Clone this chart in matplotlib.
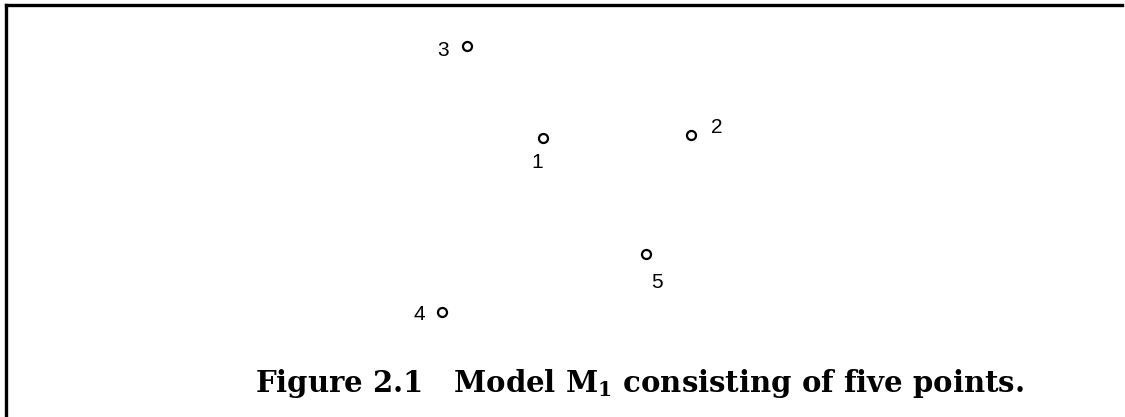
import matplotlib.pyplot as plt

# point positions (picture pixels) and labels
ids = ['1', '2', '3', '4', '5']
px = [543, 691, 467, 442, 646]
py = [138, 135, 46, 312, 254]
lab_x = [537, 717, 443, 419, 657]
lab_y = [162, 127, 50, 315, 282]

caption = r'Figure 2.1   Model M$_1$ consisting of five points.'

plt.rcParams['mathtext.fontset'] = 'custom'
plt.rcParams['mathtext.rm'] = 'DejaVu Serif:bold'
plt.rcParams['mathtext.it'] = 'DejaVu Serif:bold'
plt.rcParams['mathtext.bf'] = 'DejaVu Serif:bold'

W, H = 1125, 417
fig = plt.figure(figsize=(W / 100, H / 100), dpi=100)
left, right, top = 6, 1122, 5
ax = fig.add_axes([left / W, 0, (right - left) / W, (H - top) / H])
ax.set_xlim(left, right)
ax.set_ylim(H, top)
for s in ['right', 'bottom']:
    ax.spines[s].set_visible(False)
for s in ['left', 'top']:
    ax.spines[s].set_linewidth(2.4)
ax.set_xticks([])
ax.set_yticks([])

ax.plot(px, py, 'o', ms=6.5, mfc='white', mec='black', mew=1.6, ls='none')
for t, x, y in zip(ids, lab_x, lab_y):
    ax.text(x, y, t, fontsize=15, family='Liberation Sans', ha='center', va='center')

ax.text(640, 383, caption, fontsize=21, family='DejaVu Serif', weight='bold',
        ha='center', va='center')

fig.savefig('out.png', dpi=100)
